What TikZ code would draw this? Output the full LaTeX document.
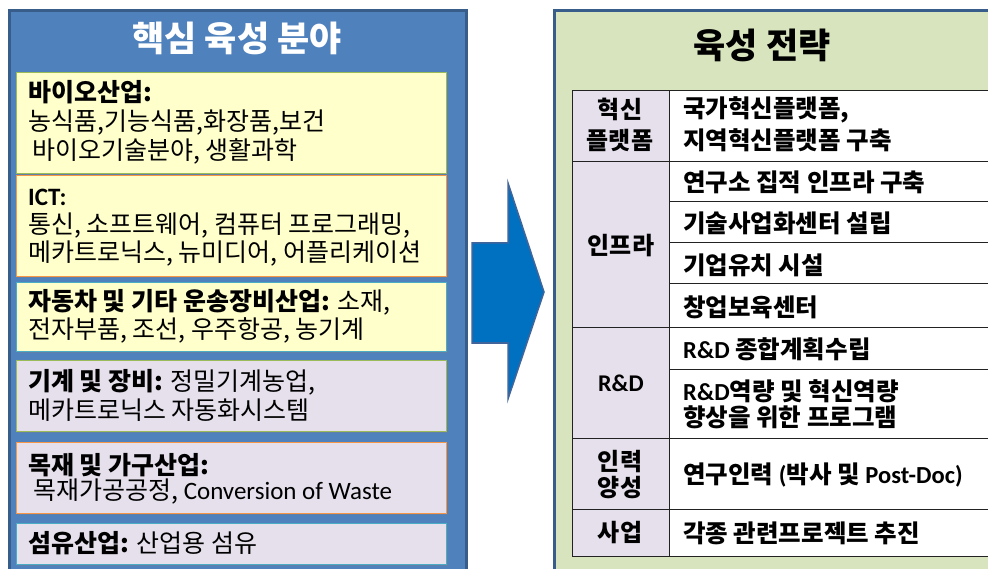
\documentclass[tikz,border=0pt]{standalone}
\usepackage{fontspec}
\setmainfont{Noto Sans CJK KR}
\newfontfamily\lat{Carlito}
\usetikzlibrary{shadows}
\definecolor{bluefill}{HTML}{4F81BD}
\definecolor{blueedge}{HTML}{385D8A}
\definecolor{greenfill}{HTML}{D7E4BD}
\definecolor{yelfill}{HTML}{FFFFCC}
\definecolor{lavfill}{HTML}{E6E0EC}
\definecolor{bgreen}{HTML}{9BBB59}
\definecolor{borange}{HTML}{F79646}
\definecolor{bcyan}{HTML}{4BACC6}
\definecolor{arrowfill}{HTML}{0070C0}
\definecolor{arrowedge}{HTML}{41659A}
\definecolor{tline}{HTML}{222222}
\begin{document}
\begin{tikzpicture}[x=1pt,y=-1pt,
  panel/.style={line width=3pt},
  catbox/.style={anchor=north west, minimum width=430pt, inner sep=0pt, line width=1.3pt,
     drop shadow={shadow xshift=1.5pt, shadow yshift=-1.5pt, opacity=0.35}},
  yel/.style={catbox, fill=yelfill},
  lav/.style={catbox, fill=lavfill},
  txt/.style={anchor=west, inner sep=0pt, font=\fontsize{25}{29}\selectfont},
  ttl/.style={anchor=center, inner sep=0pt, font=\fontsize{35}{40}\selectfont\bfseries},
  cell/.style={anchor=west, inner sep=0pt, font=\fontsize{24.5}{28}\selectfont\bfseries},
  lab/.style={anchor=center, inner sep=0pt, font=\fontsize{24}{28}\selectfont\bfseries},
  tl/.style={draw=tline, line width=1pt}
]
\useasboundingbox (0,0) rectangle (988,569);
\clip (0,0) rectangle (988,569);
\fill[white] (0,0) rectangle (988,569);

% left panel
\node[panel, fill=bluefill, draw=blueedge, anchor=north west, minimum width=457pt, minimum height=580pt, inner sep=0pt] (leftp) at (8,9) {};
\node[ttl, text=white] (lt) at (237,38) {핵심 육성 분야};

\node[yel, draw=bgreen, minimum height=101pt] (b1) at (16,72) {};
\node[yel, draw=borange, minimum height=101pt] (b2) at (16,175) {};
\node[yel, draw=bcyan, minimum height=69pt] (b3) at (16,282) {};
\node[lav, draw=bgreen, minimum height=71pt] (b4) at (16,360) {};
\node[lav, draw=borange, minimum height=71pt] (b5) at (16,442) {};
\node[lav, draw=bcyan, minimum height=41pt] (b6) at (16,523) {};

\node[txt] (t1a) at (28,92) {\textbf{바이오산업:}};
\node[txt] (t1b) at (28,123) {농식품,기능식품,화장품,보건};
\node[txt] (t1c) at (32,151) {바이오기술분야, 생활과학};

\node[txt] (t2a) at (28,197) {\lat\bfseries ICT:};
\node[txt] (t2b) at (28,226) {통신, 소프트웨어, 컴퓨터 프로그래밍,};
\node[txt] (t2c) at (28,254) {메카트로닉스, 뉴미디어, 어플리케이션};

\node[txt] (t3a) at (28,302) {\textbf{자동차 및 기타 운송장비산업:} 소재,};
\node[txt] (t3b) at (28,330) {전자부품, 조선, 우주항공, 농기계};

\node[txt] (t4a) at (28,382) {\textbf{기계 및 장비:} 정밀기계농업,};
\node[txt] (t4b) at (28,410) {메카트로닉스 자동화시스템};

\node[txt] (t5a) at (28,465) {\textbf{목재 및 가구산업:}};
\node[txt] (t5b) at (33,492) {목재가공공정, {\lat Conversion of Waste}};

\node[txt] (t6a) at (28,543) {\textbf{섬유산업:} 산업용 섬유};

% arrow
\draw[fill=arrowfill, draw=arrowedge, line width=1.5pt, line join=miter]
  (472,243) -- (508,243) -- (508,183) -- (544,292) -- (508,399) -- (508,343) -- (472,343) -- cycle;

% right panel
\node[panel, fill=greenfill, draw=blueedge, anchor=north west, minimum width=460pt, minimum height=580pt, inner sep=0pt] (rightp) at (553,9) {};
\node[ttl] (rt) at (762,45) {육성 전략};

% table
\fill[lavfill] (572,91) rectangle (669,556);
\fill[white] (669,91) rectangle (1000,556);
\foreach \yy in {91,162,328,438,509,556} \draw[tl] (572,\yy) -- (1000,\yy);
\foreach \yy in {202,243,284,369} \draw[tl] (669,\yy) -- (1000,\yy);
\draw[tl] (572,91) -- (572,556);
\draw[tl] (669,91) -- (669,556);

\node[lab] (l1a) at (620,109) {혁신};
\node[lab] (l1b) at (620,140) {플랫폼};
\node[lab] (l2) at (621,246) {인프라};
\node[lab] (l3) at (621,383) {\lat\bfseries R\&D};
\node[lab] (l4a) at (620,462) {인력};
\node[lab] (l4b) at (620,488) {양성};
\node[lab] (l5) at (620,533) {사업};

\node[cell] (c1a) at (683,110) {국가혁신플랫폼,};
\node[cell] (c1b) at (683,140) {지역혁신플랫폼 구축};
\node[cell] (c2) at (683,182) {연구소 집적 인프라 구축};
\node[cell] (c3) at (683,223) {기술사업화센터 설립};
\node[cell] (c4) at (683,265) {기업유치 시설};
\node[cell] (c5) at (683,307) {창업보육센터};
\node[cell] (c6) at (683,349) {{\lat\bfseries R\&D} 종합계획수립};
\node[cell] (c7a) at (683,391) {{\lat\bfseries R\&D}역량 및 혁신역량};
\node[cell] (c7b) at (683,417) {향상을 위한 프로그램};
\node[cell] (c8) at (683,475) {연구인력 {\lat\bfseries (}박사 및 {\lat\bfseries Post-Doc)}};
\node[cell] (c9) at (683,533) {각종 관련프로젝트 추진};
\end{tikzpicture}
\end{document}
